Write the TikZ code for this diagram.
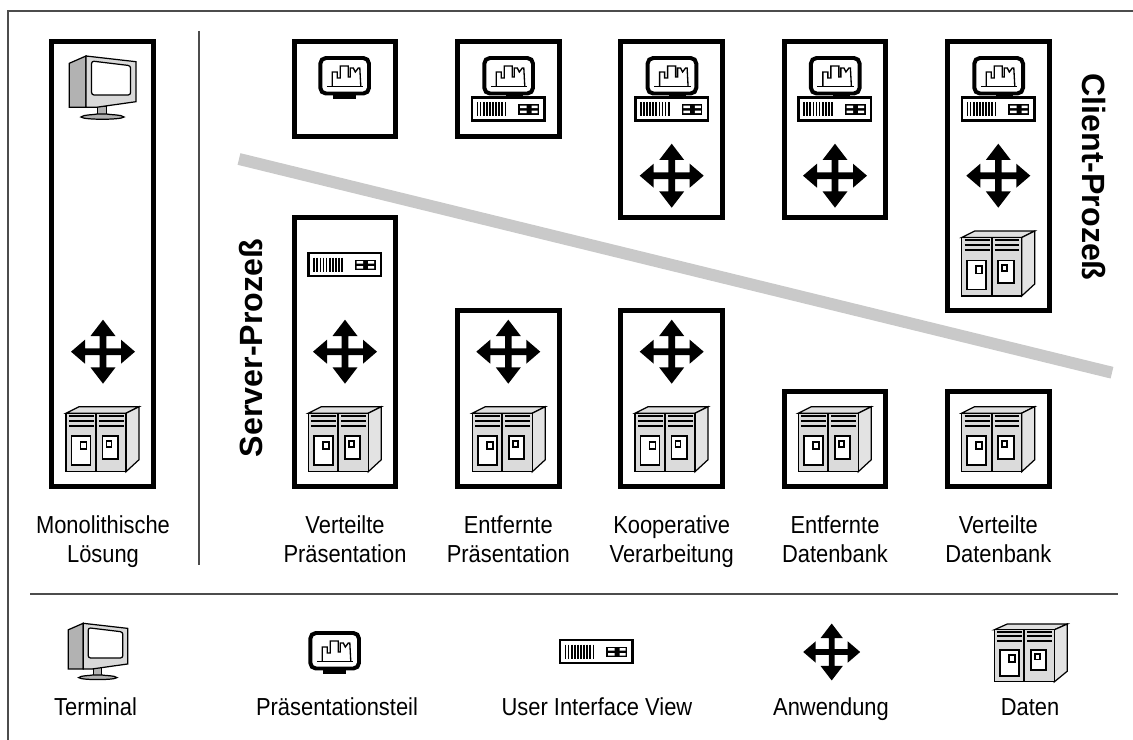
\documentclass[tikz,border=0pt]{standalone}
\usepackage{fontspec}
\setmainfont[FakeStretch=0.89]{Liberation Sans}
\newfontfamily\headfont{Liberation Sans}
\newcommand{\twolines}[2]{#1\\#2\vphantom{g}}
\tikzset{
  x=0.02cm,y=-0.02cm,
  frameline/.style={draw=black!70,line width=1.1pt},
  slot/.style={draw=black,line width=5*0.567pt,fill=white},
  lab/.style={font=\fontsize{14}{16.2}\selectfont,align=center,inner sep=0pt},
  leg/.style={font=\fontsize{14}{16.2}\selectfont,anchor=base,inner sep=0pt},
  proc/.style={font=\headfont\bfseries\fontsize{18.3}{20}\selectfont,inner sep=0pt},
  thin line/.style={line width=0.7pt,draw=black},
  arrowicon/.pic={
    \fill[black] (0,-32)--(12.5,-15.7)--(3.3,-15.7)--(3.3,-3.3)--(18,-3.3)--(18,-12)--(32,0)--(18,12)--(18,3.3)--(3.3,3.3)--(3.3,15.7)--(12.5,15.7)--(0,32)--(-12.5,15.7)--(-3.3,15.7)--(-3.3,3.3)--(-18,3.3)--(-18,12)--(-32,0)--(-18,-12)--(-18,-3.3)--(-3.3,-3.3)--(-3.3,-15.7)--(-12.5,-15.7)--cycle;
  },
  dataicon/.pic={
    \draw[thin line,fill=black!12] (0,6.5)--(13,0)--(73,0)--(60,6.5)--cycle;
    \draw[thin line,fill=black!11] (60,6.5)--(73,0)--(73,53)--(60,65)--cycle;
    \draw[thin line,fill=black!14] (0,6.5) rectangle (60,65);
    \draw[line width=1.3pt] (30,6.5)--(30,65);
    \foreach \yy in {9,14,19}{
      \draw[line width=1.1pt] (3,\yy)--(28,\yy);
      \draw[line width=1.1pt] (33,\yy)--(57.5,\yy);
    }
    \draw[line width=1.1pt,fill=white] (5.5,29.5) rectangle (24.5,58.5);
    \draw[line width=1.1pt,fill=white] (36.5,29.5) rectangle (52,52);
    \draw[line width=1pt,fill=white] (14.5,35) rectangle (20.5,42.5);
    \draw[line width=1pt,fill=white] (40.5,34) rectangle (45.5,40);
  },
  screen/.pic={
    \draw[line width=4*0.567pt,fill=white,rounded corners=3.2pt] (2,2) rectangle (50.7,37.5);
    \draw[line width=0.9pt] (8.5,30.7)--(45,30.7);
    \draw[line width=0.75pt] (14,30.7)--(14,16)--(19,16)--(19,22)--(22,22)--(22,10)--(30,10)--(30,21)--(32,21)--(32,12)--(35,12)--(37,16)--(40,12)--(41.5,12)--(42.5,30.7);
  },
  monitoricon/.pic={
    \fill[black] (15,37) rectangle (38,43);
    \pic {screen};
  },
  viewicon/.pic={
    \draw[line width=1.4pt,fill=white] (1,1) rectangle (73.5,24);
    \foreach \xx in {6.5,9.6,12.7,15.8,18.9,22,25.1,28.2,31.3,34.4}{
      \draw[line width=0.95pt] (\xx,5.5)--(\xx,19.5);
    }
    \fill[black] (47.3,7.5) rectangle (68,18);
    \fill[white] (49,9) rectangle (55.5,11.5) (49,14) rectangle (55.5,16.5) (60.5,9) rectangle (66.5,11.5) (60.5,14) rectangle (66.5,16.5);
  },
  pcicon/.pic={
    \fill[black] (35,38) rectangle (52,44);
    \pic at (11.3,-0.7) {screen};
    \pic at (0,40) {viewicon};
  },
  terminalicon/.pic={
    \draw[thin line,fill=black!30] (28,50)--(28,59)--(37,59)--(37,50)--cycle;
    \draw[thin line,fill=black!30] (11.7,61) .. controls (14,58.5) and (24,59) .. (28,58) -- (37,58) .. controls (42,59) and (52,58.5) .. (54.7,61) .. controls (52,64) and (14,64) .. (11.7,61) -- cycle;
    \draw[thin line,fill=black!30] (0,7.3)--(16.7,0)--(16.7,51.3)--(0,51.3)--cycle;
    \draw[thin line,fill=black!15] (16.7,0)--(66.7,5.7)--(66.7,45.7)--(27,51.3)--(16.7,51.3)--cycle;
    \draw[thin line,fill=white,rounded corners=1.4pt] (22.3,5)--(61.3,9.7)--(61.3,39)--(22.3,39)--cycle;
  }
}
\begin{document}
\begin{tikzpicture}
\useasboundingbox (0,0) rectangle (1133,740);
% outer rules
\coordinate (tl) at (8,11);
\coordinate (tr) at (1133,11);
\coordinate (bl) at (8,740);
\draw[frameline] (bl)--(tl)--(tr);
\coordinate (va) at (199,31);
\coordinate (vb) at (199,565);
\draw[frameline,line width=0.8pt] (va)--(vb);
\coordinate (ha) at (30,594);
\coordinate (hb) at (1118,594);
\draw[frameline,line width=0.8pt] (ha)--(hb);
% diagonal bar
\coordinate (bara) at (239,159);
\coordinate (barb) at (1112,372.7);
\draw[draw=black!21,line width=12*0.567pt] (bara)--(barb);
% slots
\draw[slot] (51.8,41.5) rectangle (153.5,486.5);
\draw[slot] (294.2,41.5) rectangle (395.8,136.5);
\draw[slot] (457.5,41.5) rectangle (559.2,136.5);
\draw[slot] (620.8,41.5) rectangle (722.5,217.5);
\draw[slot] (784.2,41.5) rectangle (885.8,217.5);
\draw[slot] (947.5,41.5) rectangle (1049.5,310.5);
\draw[slot] (294.2,217.5) rectangle (395.8,486.5);
\draw[slot] (457.5,310.5) rectangle (559.2,486.5);
\draw[slot] (620.8,310.5) rectangle (722.5,486.5);
\draw[slot] (784.2,391.5) rectangle (885.8,486.5);
\draw[slot] (947.5,391.5) rectangle (1049.5,486.5);
% icons
\pic at (69.3,56) {terminalicon};
\pic at (103,351.7) {arrowicon};
\pic at (66,406.7) {dataicon};
\pic at (318.3,56) {monitoricon};
\pic at (471,56.7) {pcicon};
\pic at (634.3,56.7) {pcicon};
\pic at (797.6,56.7) {pcicon};
\pic at (961,56.7) {pcicon};
\pic at (671.7,175.7) {arrowicon};
\pic at (835,175.7) {arrowicon};
\pic at (998.3,175.7) {arrowicon};
\pic at (961.7,231) {dataicon};
\pic at (307.7,252) {viewicon};
\pic at (345,351.7) {arrowicon};
\pic at (308.3,406.7) {dataicon};
\pic at (508.3,351.7) {arrowicon};
\pic at (472.3,406.7) {dataicon};
\pic at (671.7,351.7) {arrowicon};
\pic at (635,406.7) {dataicon};
\pic at (798.3,406.7) {dataicon};
\pic at (961.7,406.7) {dataicon};
% legend icons
\pic[scale=0.89] at (68.3,623.3) {terminalicon};
\pic at (308.3,631) {monitoricon};
\pic at (559,639) {viewicon};
\pic[scale=0.89] at (831.7,652) {arrowicon};
\pic[yscale=0.89] at (994.3,624) {dataicon};
% labels
\node[lab] (l1) at (103,541.5) {\twolines{Monolithische}{Lösung}};
\node[lab] (l2) at (345,541.5) {\twolines{Verteilte}{Präsentation}};
\node[lab] (l3) at (508.3,541.5) {\twolines{Entfernte}{Präsentation}};
\node[lab] (l4) at (671.7,541.5) {\twolines{Kooperative}{Verarbeitung}};
\node[lab] (l5) at (835,541.5) {\twolines{Entfernte}{Datenbank}};
\node[lab] (l6) at (998.3,541.5) {\twolines{Verteilte}{Datenbank}};
\node[leg] (t1) at (95.5,715) {Terminal};
\node[leg] (t2) at (337,715) {Präsentationsteil};
\node[leg] (t3) at (597,715) {User Interface View};
\node[leg] (t4) at (831,715) {Anwendung};
\node[leg] (t5) at (1030,715) {Daten};
\node[proc,rotate=90] (srv) at (251,348) {Server-Prozeß};
\node[proc,rotate=-90] (cli) at (1094,177) {Client-Prozeß};
\end{tikzpicture}
\end{document}
